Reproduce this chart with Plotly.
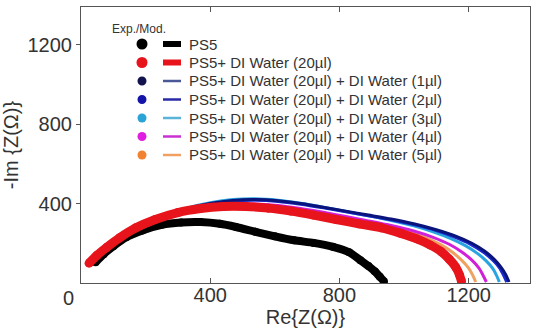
import plotly.graph_objects as go

# Nyquist data: Re{Z} and -Im{Z} in ohm
ps5_re = [45, 70, 100, 140, 190, 250, 310, 370, 430, 480, 540, 600, 660, 720, 780, 830, 865, 890, 910, 925, 938]
ps5_im = [105, 145, 185, 230, 265, 293, 305, 307, 298, 282, 258, 235, 215, 202, 182, 155, 115, 85, 58, 32, 8]

w20_re = [25, 50, 80, 120, 170, 230, 300, 370, 440, 510, 580, 650, 720, 790, 860, 930, 990, 1040, 1080, 1115, 1140, 1160, 1172, 1178]
w20_im = [100, 140, 180, 228, 278, 320, 355, 375, 385, 385, 377, 362, 342, 320, 298, 278, 250, 222, 192, 158, 120, 80, 40, 8]

w1_re = [30, 60, 100, 150, 200, 260, 330, 400, 470, 540, 610, 680, 750, 820, 890, 960, 1030, 1100, 1160, 1210, 1250, 1280, 1300, 1315, 1325]
w1_im = [100, 150, 205, 258, 300, 340, 375, 400, 416, 420, 414, 400, 382, 362, 342, 322, 298, 268, 236, 200, 160, 118, 80, 42, 5]

w2_re = [30, 60, 100, 150, 200, 260, 330, 400, 470, 540, 610, 680, 750, 820, 890, 960, 1030, 1100, 1155, 1205, 1245, 1275, 1295, 1308, 1318]
w2_im = [100, 150, 204, 256, 298, 338, 372, 397, 413, 417, 411, 397, 379, 359, 339, 318, 294, 264, 232, 196, 156, 115, 78, 40, 5]

w3_re = [30, 60, 100, 150, 200, 260, 330, 400, 470, 540, 610, 680, 750, 820, 890, 960, 1030, 1090, 1145, 1190, 1228, 1255, 1275, 1287, 1295]
w3_im = [100, 151, 206, 260, 302, 343, 378, 404, 420, 424, 417, 402, 382, 360, 338, 315, 288, 258, 224, 188, 148, 110, 72, 36, 5]

w4_re = [30, 60, 100, 150, 200, 260, 330, 400, 470, 540, 610, 680, 750, 820, 890, 960, 1030, 1090, 1140, 1180, 1210, 1232, 1245, 1255]
w4_im = [100, 148, 200, 250, 290, 328, 362, 385, 396, 398, 390, 375, 356, 335, 313, 290, 262, 230, 195, 155, 115, 75, 38, 5]

w5_re = [30, 60, 100, 150, 200, 260, 330, 400, 470, 540, 610, 680, 750, 820, 890, 960, 1020, 1070, 1115, 1150, 1178, 1200, 1213, 1222]
w5_im = [100, 146, 197, 246, 286, 324, 357, 380, 391, 392, 384, 368, 348, 326, 304, 280, 254, 226, 192, 155, 115, 75, 38, 5]

names = [
    "PS5",
    "PS5+ DI Water (20µl)",
    "PS5+ DI Water (20µl) + DI Water (1µl)",
    "PS5+ DI Water (20µl) + DI Water (2µl)",
    "PS5+ DI Water (20µl) + DI Water (3µl)",
    "PS5+ DI Water (20µl) + DI Water (4µl)",
    "PS5+ DI Water (20µl) + DI Water (5µl)",
]
dot_colors = ["#000000", "#e8141c", "#12124e", "#1414a8", "#2aa4d6", "#e01ee0", "#f08232"]
line_colors = ["#000000", "#e8141c", "#4a5898", "#2a2aa8", "#5ab4d8", "#c832d2", "#f0a060"]

x_ticks = [400, 800, 1200]
y_ticks = [400, 800, 1200]
axis_range = [0, 1390]

FONT = "Liberation Sans, Arial, sans-serif"
TXT = "#333333"

fig = go.Figure()

# PS5 band (experimental points + fitted curve)
fig.add_trace(go.Scatter(
    x=ps5_re, y=ps5_im, mode="lines+markers",
    line=dict(color=line_colors[0], width=8, shape="spline", smoothing=0.6),
    marker=dict(color=dot_colors[0], size=8), showlegend=False))

# fitted curves after extra water drops
for xs, ys, c in [(w5_re, w5_im, line_colors[6]), (w4_re, w4_im, "#d020d8"),
                  (w3_re, w3_im, "#2aa4e0"), (w2_re, w2_im, "#1a2ad0"),
                  (w1_re, w1_im, "#0a147a")]:
    fig.add_trace(go.Scatter(
        x=xs, y=ys, mode="lines",
        line=dict(color=c, width=3, shape="spline", smoothing=0.6),
        showlegend=False))

# PS5 + 20 µl band
fig.add_trace(go.Scatter(
    x=w20_re, y=w20_im, mode="lines+markers",
    line=dict(color=line_colors[1], width=9, shape="spline", smoothing=0.6),
    marker=dict(color=dot_colors[1], size=9), showlegend=False))

# plot area in pixels: left 81, right 530, top 7, bottom 283
L, R, T, B = 81, 530, 7, 283


def px(xp):
    return (xp - L) / (R - L)


def py(yp):
    return (B - yp) / (B - T)


shapes = []
annotations = []

# hand-built legend: experimental dot, model line, label
annotations.append(dict(x=px(110), y=py(29), xref="paper", yref="paper",
                        text="Exp./Mod.", showarrow=False, xanchor="left",
                        yanchor="middle", font=dict(family=FONT, size=12, color=TXT)))
row_y = [44, 62.5, 81, 99.5, 118, 136.5, 155]
for i, (name, yy) in enumerate(zip(names, row_y)):
    r = 5.5 if i < 2 else 4.5
    shapes.append(dict(type="circle", xref="paper", yref="paper",
                       x0=px(142 - r), x1=px(142 + r), y0=py(yy + r), y1=py(yy - r),
                       fillcolor=dot_colors[i], line=dict(width=0)))
    shapes.append(dict(type="line", xref="paper", yref="paper",
                       x0=px(163), x1=px(181), y0=py(yy), y1=py(yy),
                       line=dict(color=line_colors[i], width=6 if i < 2 else 2.5)))
    annotations.append(dict(x=px(187), y=py(yy), xref="paper", yref="paper",
                            text=name, showarrow=False, xanchor="left", yanchor="middle",
                            font=dict(family=FONT, size=15, color=TXT)))

# shared origin label
annotations.append(dict(x=0, y=0, xref="x", yref="y", text="0", showarrow=False,
                        xshift=-13, yshift=-15, font=dict(family=FONT, size=20, color=TXT)))

fig.update_layout(
    width=535, height=336,
    margin=dict(l=L, r=535 - R, t=T, b=336 - B),
    paper_bgcolor="white", plot_bgcolor="white",
    font=dict(family=FONT, size=20, color=TXT),
    shapes=shapes, annotations=annotations,
    xaxis=dict(range=axis_range, tickvals=x_ticks, ticks="inside", ticklen=5,
               tickcolor="#555", showline=True, linecolor="#555", linewidth=1.2,
               mirror="ticks", showgrid=False, zeroline=False, ticklabelstandoff=-6,
               title=dict(text="Re{Z(Ω)}", standoff=4, font=dict(size=20))),
    yaxis=dict(range=axis_range, tickvals=y_ticks, ticks="outside", ticklen=4,
               tickcolor="#555", showline=True, linecolor="#555", linewidth=1.2,
               mirror=True, showgrid=False, zeroline=False,
               title=dict(text="-Im {Z(Ω)}", standoff=8, font=dict(size=20))),
)

fig.write_html("out.html")
